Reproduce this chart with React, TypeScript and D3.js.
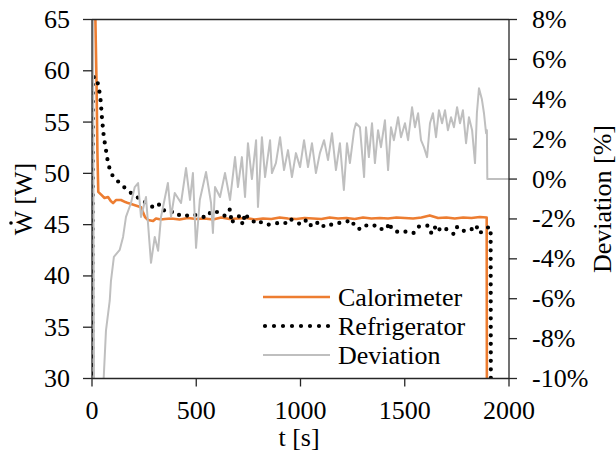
import React from 'react';
import * as d3 from 'd3';

// time [s] vs power [W] / deviation [%]
const xTicks = [0, 500, 1000, 1500, 2000];
const powerTicks = [30, 35, 40, 45, 50, 55, 60, 65];
const devTicks = [-10, -8, -6, -4, -2, 0, 2, 4, 6, 8];
const seriesNames = ['Calorimeter', 'Refrigerator', 'Deviation'];

const calorimeter: [number, number][] = [
    [12, 70], [18, 63], [22, 58.5], [26, 52], [30, 48.2], [45, 47.9], [60, 47.6], [77, 47.7],
    [90, 47.3], [101, 47.1], [115, 47.4], [139, 47.4], [160, 47.2], [173, 47.1], [206, 46.9],
    [235, 46.7], [254, 45.75], [269, 45.45], [293, 45.35], [307, 45.6], [330, 45.5], [350, 45.55],
    [380, 45.6], [420, 45.5], [460, 45.65], [500, 45.55], [540, 45.6], [580, 45.5], [620, 45.7],
    [660, 45.55], [700, 45.6], [740, 45.65], [780, 45.5], [820, 45.6], [860, 45.55], [900, 45.7],
    [940, 45.6], [980, 45.55], [1020, 45.65], [1060, 45.6], [1100, 45.55], [1140, 45.7], [1180, 45.6],
    [1220, 45.65], [1260, 45.55], [1300, 45.7], [1340, 45.6], [1380, 45.65], [1420, 45.6], [1460, 45.7],
    [1500, 45.65], [1540, 45.6], [1580, 45.7], [1620, 45.9], [1660, 45.65], [1700, 45.7], [1740, 45.6],
    [1780, 45.7], [1820, 45.65], [1860, 45.75], [1893, 45.7], [1894, 28],
];

const refrigerator: [number, number][] = [
    [2, 28], [4, 59.4], [22, 59.3], [34, 58.2], [42, 57.0], [47, 55.6], [52, 54.5], [57, 53.5],
    [66, 52.4], [77, 51.0], [91, 50.0], [110, 49.5], [141, 48.9], [173, 48.3], [200, 47.9],
    [237, 47.4], [277, 46.9], [300, 46.6], [325, 47.0], [349, 46.3], [375, 46.2], [397, 46.3],
    [420, 45.9], [445, 45.8], [470, 46.0], [494, 45.95], [523, 45.8], [550, 45.7], [574, 46.36],
    [614, 46.16], [638, 45.84], [662, 46.5], [670, 45.13], [686, 45.7], [710, 45.84], [723, 45.0],
    [734, 46.1], [750, 45.6], [774, 45.3], [802, 45.45], [814, 45.13], [846, 45.0], [886, 45.13],
    [902, 45.2], [926, 45.13], [946, 45.6], [982, 45.2], [1006, 45.0], [1030, 45.5], [1054, 44.8],
    [1078, 45.13], [1090, 45.3], [1113, 44.8], [1133, 45.0], [1165, 45.0], [1181, 45.13], [1202, 45.3],
    [1222, 45.3], [1246, 45.45], [1261, 44.75], [1285, 44.57], [1309, 44.96], [1333, 44.8], [1365, 44.96],
    [1389, 44.57], [1413, 44.54], [1426, 45.2], [1437, 44.57], [1461, 44.3], [1485, 44.4], [1517, 44.25],
    [1541, 44.15], [1565, 44.8], [1589, 44.9], [1613, 44.9], [1629, 44.1], [1650, 44.9], [1661, 44.47],
    [1685, 44.8], [1709, 44.4], [1733, 44.1], [1749, 44.8], [1765, 44.4], [1789, 44.4], [1813, 44.4],
    [1842, 44.96], [1857, 44.15], [1877, 44.4], [1905, 44.8], [1912, 44.6], [1913, 28],
];

const deviation: [number, number][] = [
    [4, 12], [10, -12], [50, -12], [56, -10], [67, -7.6], [85, -6.1], [91, -5.1], [105, -3.9],
    [133, -3.55], [149, -2.9], [163, -1.9], [187, -1.2], [205, -0.4], [221, -0.2], [235, -1.9],
    [259, -0.9], [283, -4.2], [301, -2.9], [317, -3.6], [331, -1.9], [364, -0.2], [379, -1.9],
    [397, -0.7], [427, -1.2], [451, 0.55], [470, -1.05], [484, 0.3], [499, -3.45], [517, -1.05],
    [547, 0.35], [571, -1.2], [580, -2.7], [590, -0.4], [614, -0.9], [638, 0.3], [662, -1.05],
    [686, 1.1], [700, -0.4], [719, 1.1], [734, -0.9], [748, 1.8], [767, 0], [787, 1.95], [796, -1.4],
    [815, 2.1], [830, 0.1], [854, 1.95], [863, 0.3], [882, 0.8], [902, 2.1], [921, 0.45], [940, 1.45],
    [959, 0.1], [978, 1.3], [998, 0.6], [1017, 1.95], [1036, 0.6], [1055, 1.8], [1074, 0.3], [1093, 1.3],
    [1113, 1.95], [1132, 0.95], [1151, 2.3], [1170, 0.45], [1189, 1.8], [1208, -0.55], [1223, 1.8],
    [1237, 0.8], [1257, 2.45], [1266, 2.8], [1285, 2.6], [1305, 0.1], [1314, 2.6], [1328, 1.1],
    [1343, 2.8], [1357, 0.8], [1372, 2.45], [1386, 1.6], [1405, 2.95], [1420, 0.45], [1434, 2.6],
    [1448, 1.95], [1468, 3.1], [1482, 2.1], [1501, 2.8], [1516, 1.95], [1535, 3.6], [1549, 2.6],
    [1564, 3.3], [1578, 1.95], [1592, 1.6], [1607, 1.1], [1621, 2.8], [1635, 3.3], [1650, 2.1],
    [1664, 3.45], [1679, 2.8], [1693, 3.45], [1707, 2.45], [1722, 3.1], [1736, 2.6], [1751, 3.6],
    [1765, 2.8], [1779, 3.45], [1794, 1.8], [1808, 3.1], [1823, 2.45], [1837, 0.8], [1846, 3.3],
    [1856, 4.55], [1870, 4.0], [1880, 3.3], [1890, 2.3], [1894, 2.45], [1896, 0], [2000, 0],
];

const ORANGE = '#ED7D31';
const GREY = '#BFBFBF';
const AXIS = '#262626';
const FONT = 'Liberation Serif';
const FS = 26;

const App = () => {
    const width = 616;
    const height = 452;
    const left = 92, right = 509, top = 19.5, bottom = 378.5;

    const xScale = d3.scaleLinear().domain([0, 2000]).range([left, right]);
    const yPower = d3.scaleLinear().domain([30, 65]).range([bottom, top]);
    const yDev = d3.scaleLinear().domain([-10, 8]).range([bottom, top]);

    const powerLine = d3.line<[number, number]>()
        .x((d) => xScale(d[0]))
        .y((d) => yPower(d[1]));
    const devLine = d3.line<[number, number]>()
        .x((d) => xScale(d[0]))
        .y((d) => yDev(d[1]));

    const legendY = [297, 326, 355];
    const txt = { fontFamily: FONT };

    return (
        <svg width={width} height={height} style={{ position: 'absolute', left: 0, top: 0 }}>
            <rect width={width} height={height} fill="white" />
            <defs>
                <clipPath id="plot-clip">
                    <rect x={left} y={top} width={right - left} height={bottom - top} />
                </clipPath>
            </defs>

            {/* data */}
            <g clipPath="url(#plot-clip)" fill="none">
                <path d={powerLine(calorimeter) || ''} stroke={ORANGE} strokeWidth={2.6} strokeLinejoin="round" />
                <path d={powerLine(refrigerator) || ''} stroke="black" strokeWidth={4.2} strokeDasharray="0 8.5" strokeLinecap="round" />
                <path d={devLine(deviation) || ''} stroke={GREY} strokeWidth={2} strokeLinejoin="round" />
            </g>

            {/* frame */}
            <line x1={left} x2={right} y1={top} y2={top} stroke={AXIS} strokeWidth={1.3} />
            <line x1={left} x2={right} y1={bottom} y2={bottom} stroke={AXIS} strokeWidth={1.5} />
            <line x1={left} x2={left} y1={top} y2={bottom} stroke={AXIS} strokeWidth={1.3} />
            <line x1={right} x2={right} y1={top} y2={bottom} stroke={AXIS} strokeWidth={1.3} />

            {/* left axis */}
            {powerTicks.map((t) => (
                <g key={`w${t}`}>
                    <line x1={left - 9} x2={left} y1={yPower(t)} y2={yPower(t)} stroke={AXIS} strokeWidth={1.3} />
                    <text x={70} y={yPower(t) + 8.5} textAnchor="end" fontSize={FS} style={txt}>{t}</text>
                </g>
            ))}

            {/* right axis */}
            {devTicks.map((t) => (
                <g key={`d${t}`}>
                    <line x1={right} x2={right + 8} y1={yDev(t)} y2={yDev(t)} stroke={AXIS} strokeWidth={1.3} />
                    <text x={532} y={yDev(t) + 8.5} fontSize={FS} style={txt}>{`${t}%`}</text>
                </g>
            ))}

            {/* bottom axis */}
            {xTicks.map((t) => (
                <g key={`x${t}`}>
                    <line x1={xScale(t)} x2={xScale(t)} y1={bottom} y2={bottom + 8} stroke={AXIS} strokeWidth={1.3} />
                    <text x={xScale(t)} y={419} textAnchor="middle" fontSize={FS} style={txt}>{t}</text>
                </g>
            ))}

            {/* titles: the dot over W is drawn as a small circle */}
            <g transform="translate(32,199) rotate(-90)">
                <text textAnchor="middle" fontSize={FS} style={txt}>W [W]</text>
                <circle cx={-24} cy={-21} r={1.8} fill="black" />
            </g>
            <text transform="translate(611,199) rotate(-90)" textAnchor="middle" fontSize={FS} style={txt}>Deviation [%]</text>
            <text x={299} y={446} textAnchor="middle" fontSize={FS} style={txt}>t [s]</text>

            {/* legend */}
            <line x1={263} x2={330} y1={legendY[0]} y2={legendY[0]} stroke={ORANGE} strokeWidth={2.6} />
            <line x1={265} x2={330} y1={legendY[1]} y2={legendY[1]} stroke="black" strokeWidth={4.2} strokeDasharray="0 9" strokeLinecap="round" />
            <line x1={263} x2={330} y1={legendY[2]} y2={legendY[2]} stroke={GREY} strokeWidth={2} />
            {seriesNames.map((name, i) => (
                <text key={name} x={338} y={legendY[i] + 8.5} fontSize={FS} style={txt}>{name}</text>
            ))}
        </svg>
    );
};

export default App;
